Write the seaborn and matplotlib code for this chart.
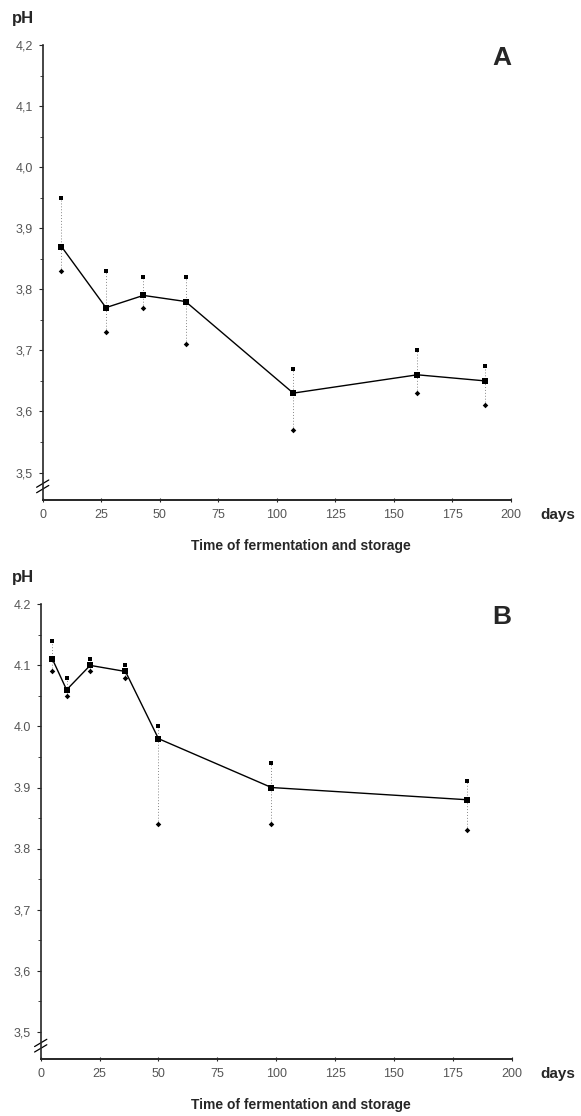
import matplotlib
matplotlib.use("Agg")
import matplotlib.pyplot as plt
import seaborn as sns
import pandas as pd
from matplotlib.ticker import MultipleLocator

# panel A
days_a = [8, 27, 43, 61, 107, 160, 189]
mean_a = [3.87, 3.77, 3.79, 3.78, 3.63, 3.66, 3.65]
upper_a = [3.95, 3.83, 3.82, 3.82, 3.67, 3.70, 3.675]
lower_a = [3.83, 3.73, 3.77, 3.71, 3.57, 3.63, 3.61]

# panel B
days_b = [5, 11, 21, 36, 50, 98, 181]
mean_b = [4.11, 4.06, 4.10, 4.09, 3.98, 3.90, 3.88]
upper_b = [4.14, 4.08, 4.11, 4.10, 4.00, 3.94, 3.91]
lower_b = [4.09, 4.05, 4.09, 4.08, 3.84, 3.84, 3.83]

yticks = [3.5, 3.6, 3.7, 3.8, 3.9, 4.0, 4.1, 4.2]
ylabels_a = ["3,5", "3,6", "3,7", "3,8", "3,9", "4,0", "4,1", "4,2"]
ylabels_b = ["3,5", "3,6", "3,7", "3.8", "3.9", "4.0", "4.1", "4.2"]
xticks = [0, 25, 50, 75, 100, 125, 150, 175, 200]

sns.set_style("ticks")
plt.rcParams["font.family"] = ["Liberation Sans", "DejaVu Sans"]

W, H = 581, 1116
fig = plt.figure(figsize=(W / 100, H / 100), dpi=100)


def draw_panel(rect, days, mean, upper, lower, ylabels, letter, top_px, axis_px):
    ax = fig.add_axes(rect)
    df = pd.DataFrame({"day": days, "mean": mean, "upper": upper, "lower": lower})

    ax.vlines(df["day"], df["lower"], df["upper"], colors="#888888",
              linestyles=(0, (1, 2)), linewidth=0.7, zorder=1)
    sns.lineplot(data=df, x="day", y="mean", ax=ax, color="black", linewidth=1.0,
                 marker="s", markersize=5, markeredgewidth=0, zorder=3)
    sns.scatterplot(data=df, x="day", y="upper", ax=ax, color="black", marker="s",
                    s=9, linewidth=0, zorder=3)
    sns.scatterplot(data=df, x="day", y="lower", ax=ax, color="black", marker="D",
                    s=8, linewidth=0, zorder=3)

    ax.set_xlim(0, 200)
    ax.set_ylim(3.455, 4.2)
    ax.set_xticks(xticks)
    ax.set_xticklabels([str(t) for t in xticks])
    ax.set_yticks(yticks)
    ax.set_yticklabels(ylabels)
    ax.yaxis.set_minor_locator(MultipleLocator(0.05))
    ax.set_xlabel("")
    ax.set_ylabel("")

    sns.despine(ax=ax)
    ax.spines["left"].set_linewidth(1.2)
    ax.spines["bottom"].set_linewidth(1.4)
    ax.tick_params(axis="y", which="major", length=3, width=0.8, pad=4,
                   labelsize=9, labelcolor="#555555", direction="out")
    ax.tick_params(axis="y", which="minor", length=2, width=0.6, direction="out")
    ax.tick_params(axis="x", length=3, width=0.8, pad=5, labelsize=9,
                   labelcolor="#555555", direction="inout")

    # axis break marks
    for dy in (-0.006, 0.006):
        ax.plot([-0.013, 0.013], [0.03 + dy - 0.008, 0.03 + dy + 0.008],
                transform=ax.transAxes, color="black", linewidth=0.9, clip_on=False)

    fig.text(23 / W, 1 - (top_px - 27) / H, "pH", fontsize=12, fontweight="bold",
             ha="center", va="center")
    fig.text(502 / W, 1 - (top_px + 13) / H, letter, fontsize=19, fontweight="bold",
             ha="center", va="center")
    fig.text(558 / W, 1 - (axis_px + 15) / H, "days", fontsize=11, fontweight="bold",
             ha="center", va="center")
    fig.text(301 / W, 1 - (axis_px + 46) / H, "Time of fermentation and storage",
             fontsize=10, fontweight="bold", ha="center", va="center")
    return ax


# panel A: 4.2 at y=45 px, x axis at y=500 px
draw_panel([42.7 / W, 1 - 500 / H, (511 - 42.7) / W, 455 / H],
           days_a, mean_a, upper_a, lower_a, ylabels_a, "A", 45, 500)
# panel B: 4.2 at y=604 px, x axis at y=1059 px
draw_panel([40.7 / W, 1 - 1059.3 / H, (511.7 - 40.7) / W, 455 / H],
           days_b, mean_b, upper_b, lower_b, ylabels_b, "B", 604.3, 1059.3)

fig.savefig("out.png", dpi=100)
